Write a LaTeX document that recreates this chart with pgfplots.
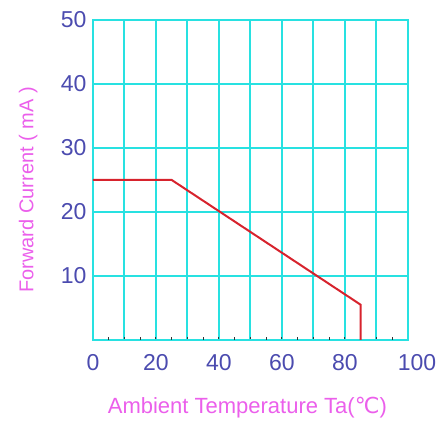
\documentclass[border=0pt]{standalone}
\usepackage{fontspec}
\setmainfont{Liberation Sans}
\newfontfamily\dejavu{DejaVu Sans}
\usepackage{pgfplots}
\pgfplotsset{compat=1.18}
\definecolor{gridcyan}{RGB}{40,225,225}
\definecolor{ticklab}{RGB}{75,75,175}
\definecolor{labmag}{RGB}{235,95,235}
\definecolor{curvered}{RGB}{215,35,45}
\begin{document}
\begin{tikzpicture}
\begin{axis}[
  scale only axis,
  width=315pt, height=320pt,
  xmin=0, xmax=100, ymin=0, ymax=50,
  xtick={0,10,...,100},
  xticklabels={0,,20,,40,,60,,80,,{\hspace*{18pt}100}},
  ytick={10,20,...,50},
  extra x ticks={5,15,...,95},
  extra x tick labels={},
  extra x tick style={grid=none},
  grid=major,
  grid style={gridcyan, line width=2pt},
  axis line style={gridcyan, line width=2pt},
  xtick pos=bottom, ytick pos=left,
  tick align=inside,
  x tick style={black!80, line width=1pt},
  major tick length=3pt,
  y tick style={draw=none},
  axis on top=false,
  /pgf/number format/assume math mode=true,
  ticklabel style={font=\fontsize{23}{27}\selectfont, text=ticklab},
  xticklabel style={yshift=-11pt},
  yticklabel style={xshift=-3pt},
  xlabel={Ambient Temperature Ta({\dejavu ℃})},
  ylabel={Forward Current ( mA )},
  xlabel style={font=\fontsize{22}{26}\selectfont, text=labmag, at={(axis description cs:0.49,-0.2125)}, anchor=center},
  ylabel style={font=\fontsize{20}{24}\selectfont, text=labmag, at={(axis description cs:-0.206,0.469)}, anchor=center},
]
\addplot[curvered, line width=2pt] coordinates {(0,25) (25,25) (85,5.5) (85,0)};
\end{axis}
\path ([shift={(-93pt,-81pt)}]current axis.south west) rectangle ([shift={(32pt,20pt)}]current axis.north east);
\end{tikzpicture}
\end{document}
